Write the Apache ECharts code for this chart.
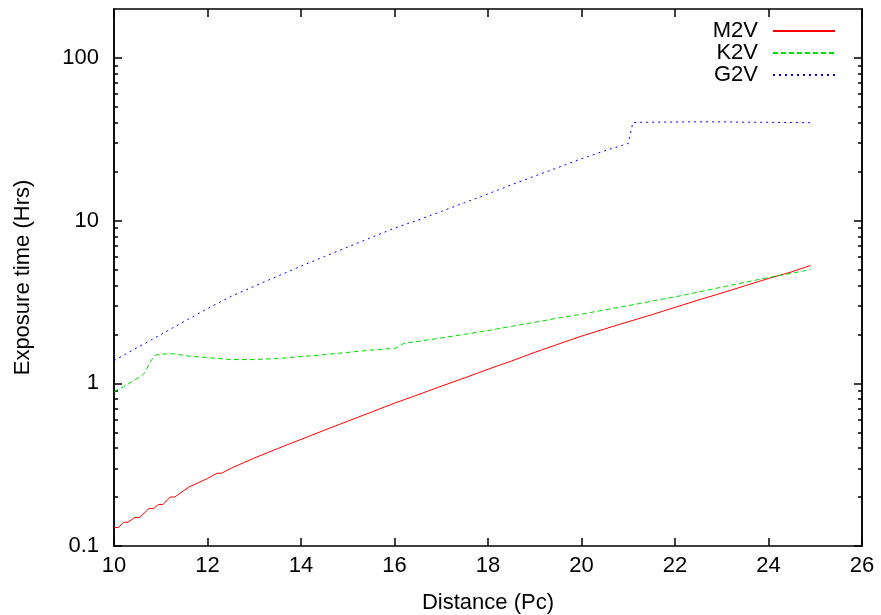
<!DOCTYPE html>
<html>
<head>
<meta charset="utf-8">
<title>Exposure time vs distance</title>
<script src="https://cdn.jsdelivr.net/npm/echarts@6/dist/echarts.min.js"></script>
<style>
  html, body { margin: 0; padding: 0; background: #fff; }
  #chart { width: 881px; height: 615px; }
</style>
</head>
<body>
<div id="chart"></div>
<script>
// distances (Pc) and exposure times (Hrs)
var m2vDist = [10.0, 10.1, 10.2, 10.3, 10.45, 10.55, 10.75, 10.85, 10.95, 11.05, 11.2, 11.3, 11.6, 12.0, 12.2, 12.3, 12.5, 13.0, 13.5, 14.0, 14.5, 15.0, 15.5, 16.0, 16.5, 17.0, 17.5, 18.0, 18.5, 19.0, 19.5, 20.0, 20.5, 21.0, 21.5, 22.0, 22.5, 23.0, 23.5, 24.0, 24.5, 24.9];
var m2vTime = [0.13, 0.13, 0.14, 0.14, 0.15, 0.15, 0.17, 0.17, 0.18, 0.18, 0.20, 0.20, 0.23, 0.26, 0.28, 0.28, 0.30, 0.347, 0.397, 0.452, 0.515, 0.585, 0.664, 0.755, 0.85, 0.96, 1.08, 1.22, 1.37, 1.55, 1.74, 1.95, 2.16, 2.39, 2.64, 2.93, 3.25, 3.59, 3.98, 4.41, 4.85, 5.3];

var k2vDist = [10.0, 10.2, 10.4, 10.6, 10.66, 10.77, 10.88, 11.0, 11.27, 11.6, 12.0, 12.5, 13.0, 13.5, 14.0, 14.5, 15.0, 15.5, 16.0, 16.05, 16.2, 16.5, 17.0, 17.5, 18.0, 18.5, 19.0, 19.5, 20.0, 20.5, 21.0, 21.5, 22.0, 22.5, 23.0, 23.5, 24.0, 24.5, 24.9];
var k2vTime = [0.89, 0.95, 1.03, 1.12, 1.16, 1.35, 1.49, 1.51, 1.52, 1.47, 1.44, 1.40, 1.40, 1.42, 1.46, 1.50, 1.55, 1.60, 1.64, 1.66, 1.76, 1.81, 1.90, 2.00, 2.11, 2.24, 2.37, 2.52, 2.66, 2.83, 3.00, 3.20, 3.40, 3.64, 3.90, 4.18, 4.47, 4.75, 5.00];

var g2vDist = [10.0, 10.5, 11.0, 11.5, 12.0, 12.5, 13.0, 13.5, 14.0, 14.5, 15.0, 15.5, 16.0, 16.5, 17.0, 17.5, 18.0, 18.5, 19.0, 19.5, 20.0, 20.5, 21.0, 21.1, 21.5, 22.0, 22.5, 23.0, 23.5, 24.0, 24.5, 24.9];
var g2vTime = [1.38, 1.66, 1.99, 2.40, 2.88, 3.42, 3.95, 4.56, 5.25, 6.01, 6.88, 7.87, 9.0, 10.07, 11.4, 12.9, 14.6, 16.6, 18.8, 21.2, 24.0, 26.9, 29.8, 40.1, 40.3, 40.4, 40.5, 40.5, 40.3, 40.2, 40.1, 40.0];

// axis ticks
var yMajor = [0.1, 1, 10, 100];
var yMinor = [0.2, 0.3, 0.4, 0.5, 0.6, 0.7, 0.8, 0.9, 2, 3, 4, 5, 6, 7, 8, 9, 20, 30, 40, 50, 60, 70, 80, 90];

var FONT = "'Liberation Sans', Arial, Helvetica, sans-serif";
var yMin = 0.1, yMax = 200;

function pairs(xs, ys) {
  var out = [];
  for (var i = 0; i < xs.length; i++) out.push([xs[i], ys[i]]);
  return out;
}

var myChart = echarts.init(document.getElementById('chart'));

// tick-only log axes (gnuplot style border ticks)
function tickAxis(position, values, len) {
  return {
    type: 'log',
    logBase: 10,
    min: yMin,
    max: yMax,
    position: position,
    axisLine: { show: true, onZero: false, lineStyle: { color: '#000', width: 1.5 } },
    splitLine: { show: false },
    axisLabel: { show: false, customValues: values },
    axisTick: { show: true, inside: true, length: len, lineStyle: { color: '#000', width: 1.5 }, customValues: values }
  };
}

myChart.setOption({
  animation: false,
  backgroundColor: '#fff',
  textStyle: { fontFamily: FONT, color: '#000' },
  grid: { left: 114, right: 19, top: 9, bottom: 69, outerBoundsMode: 'none' },
  legend: {
    orient: 'vertical',
    align: 'right',
    right: 40,
    top: 15,
    itemWidth: 62,
    itemHeight: 14,
    itemGap: 0,
    itemStyle: { opacity: 0 },
    textStyle: { fontFamily: FONT, fontSize: 22, color: '#000', lineHeight: 22, padding: [0, 10, 0, 0] },
    data: ['M2V', 'K2V', 'G2V']
  },
  xAxis: [
    {
      type: 'value',
      min: 10,
      max: 26,
      interval: 2,
      name: 'Distance (Pc)',
      nameLocation: 'middle',
      nameGap: 46,
      nameTextStyle: { fontFamily: FONT, fontSize: 22, color: '#000' },
      axisLine: { show: true, onZero: false, lineStyle: { color: '#000', width: 1.5 } },
      axisTick: { show: true, inside: true, length: 8, lineStyle: { color: '#000', width: 1.5 } },
      axisLabel: { fontFamily: FONT, fontSize: 22, color: '#000', margin: 9 },
      splitLine: { show: false }
    },
    {
      type: 'value',
      position: 'top',
      min: 10,
      max: 26,
      interval: 2,
      axisLine: { show: true, onZero: false, lineStyle: { color: '#000', width: 1.5 } },
      axisTick: { show: true, inside: true, length: 8, lineStyle: { color: '#000', width: 1.5 } },
      axisLabel: { show: false },
      splitLine: { show: false }
    }
  ],
  yAxis: [
    {
      type: 'log',
      logBase: 10,
      min: yMin,
      max: yMax,
      position: 'left',
      name: 'Exposure time (Hrs)',
      nameLocation: 'middle',
      nameGap: 80,
      nameTextStyle: { fontFamily: FONT, fontSize: 22, color: '#000' },
      axisLine: { show: true, onZero: false, lineStyle: { color: '#000', width: 1.5 } },
      axisTick: { show: true, inside: true, length: 8, lineStyle: { color: '#000', width: 1.5 }, customValues: yMajor },
      axisLabel: {
        fontFamily: FONT, fontSize: 22, color: '#000', margin: 15,
        customValues: yMajor,
        formatter: function (v) { return String(+v.toPrecision(3)); }
      },
      splitLine: { show: false }
    },
    tickAxis('left', yMinor, 4),
    tickAxis('right', yMajor, 8),
    tickAxis('right', yMinor, 4)
  ],
  series: [
    {
      name: 'M2V',
      type: 'line',
      data: pairs(m2vDist, m2vTime),
      symbol: 'none',
      lineStyle: { color: '#ff0000', width: 1 },
      itemStyle: { color: '#ff0000' }
    },
    {
      name: 'K2V',
      type: 'line',
      data: pairs(k2vDist, k2vTime),
      symbol: 'none',
      lineStyle: { color: '#00dd00', width: 1, type: [5, 3] },
      itemStyle: { color: '#00dd00' }
    },
    {
      name: 'G2V',
      type: 'line',
      data: pairs(g2vDist, g2vTime),
      symbol: 'none',
      lineStyle: { color: '#0000ff', width: 1, type: [2, 4] },
      itemStyle: { color: '#0000ff' }
    }
  ]
});
</script>
</body>
</html>
